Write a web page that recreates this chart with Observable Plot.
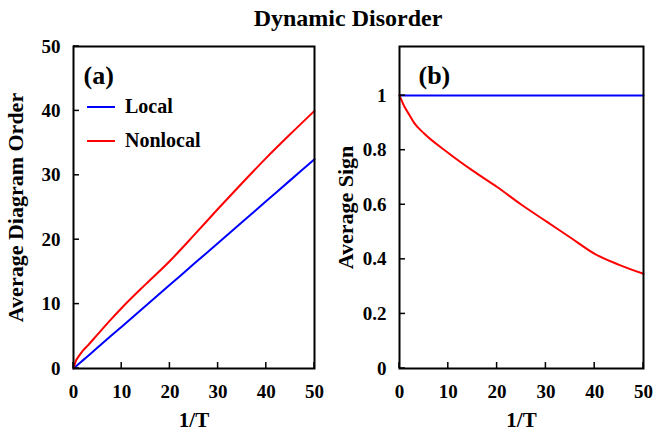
<!DOCTYPE html>
<html><head><meta charset="utf-8">
<script src="https://cdn.jsdelivr.net/npm/d3@7"></script>
<script src="https://cdn.jsdelivr.net/npm/@observablehq/plot@0.6"></script>
<style>
body{margin:0;background:#fff;font-family:"Liberation Serif",serif;}
#wrap{position:relative;width:655px;height:433px;overflow:hidden;background:#fff;}
#title{position:absolute;top:6px;left:0;width:696px;text-align:center;font-weight:bold;font-size:24px;line-height:24px;z-index:2;}
.pan{position:absolute;top:30px;z-index:1;}
</style></head>
<body><div id="wrap"><div id="pa" class="pan" style="left:0"></div><div id="pb" class="pan" style="left:327px"></div><div id="title">Dynamic Disorder</div></div>
<script>
const invT = [0,0.5,1,2,3,5,7.5,10,15,20,25,30,35,40,45,50];
const localOrder = [0,0.33,0.65,1.3,1.95,3.25,4.9,6.5,9.75,13,16.25,19.5,22.75,26,29.25,32.5];
const nonlocalOrder = [0,1.2,1.8,2.8,3.6,5.3,7.4,9.4,13.1,16.7,20.7,24.8,28.8,32.7,36.4,40];
const invTSign = [0,1,2,3,5,10,15,20,25,30,35,40,45,50];
const localSign = [1,1,1,1,1,1,1,1,1,1,1,1,1,1];
const nonlocalSign = [1,0.96,0.93,0.9,0.862,0.79,0.725,0.665,0.6,0.54,0.48,0.42,0.38,0.347];
const seriesNames = ["Local","Nonlocal"];
const colors = ["#0000ff","#ff0000"];
const xTicks = [0,10,20,30,40,50];
const yTicksA = [0,10,20,30,40,50];
const yTicksB = [0,0.2,0.4,0.6,0.8,1];

const dataA = [], dataB = [];
invT.forEach((x,i)=>{dataA.push({x,y:localOrder[i],s:"Local"});});
invT.forEach((x,i)=>{dataA.push({x,y:nonlocalOrder[i],s:"Nonlocal"});});
invTSign.forEach((x,i)=>{dataB.push({x,y:localSign[i],s:"Local"});});
invTSign.forEach((x,i)=>{dataB.push({x,y:nonlocalSign[i],s:"Nonlocal"});});

const font = "Liberation Serif";
function legendMark(index, scales, values, dims){
  const g = d3.create("svg:g");
  const x0 = dims.marginLeft + 14, y0 = dims.marginTop + 61;
  seriesNames.forEach((n,i)=>{
    const y = y0 + i*34;
    g.append("line").attr("x1",x0).attr("x2",x0+28).attr("y1",y).attr("y2",y)
      .attr("stroke",colors[i]).attr("stroke-width",2);
    g.append("text").attr("x",x0+38).attr("y",y).attr("dy","0.32em")
      .attr("text-anchor","start")
      .attr("font-family",font).attr("font-weight","bold").attr("font-size",20).text(n);
  });
  return g.node();
}
function tickMarks(xt, yt){
  return (index, scales, values, dims) => {
    const g = d3.create("svg:g").attr("stroke","#000").attr("stroke-width",1.5);
    const yb = dims.height - dims.marginBottom, xl = dims.marginLeft;
    xt.forEach(v => { const x = scales.x(v); g.append("line").attr("x1",x).attr("x2",x).attr("y1",yb).attr("y2",yb-6); });
    yt.forEach(v => { const y = scales.y(v); g.append("line").attr("x1",xl).attr("x2",xl+6).attr("y1",y).attr("y2",y); });
    return g.node();
  };
}
function panel(data, yDomain, yTicks, yLabel, tag, ml, mr, tagDx, labelDx, legend){
  return Plot.plot({
    width: 327 + (tag==="(b)"?1:0), height: 403,
    marginTop: 16, marginBottom: 65, marginLeft: ml, marginRight: mr,
    style: {fontFamily: font, fontWeight: "bold", fontSize: "19px", color: "#000", background: "transparent"},
    x: {domain: [0,50]},
    y: {domain: yDomain},
    color: {domain: seriesNames, range: colors},
    marks: [
      Plot.line(data, {x:"x", y:"y", z:"s", stroke:"s", strokeWidth:2, curve:"monotone-x"}),
      Plot.axisX({ticks: xTicks, tickSize: 0, tickPadding: 16, label: null, tickFormat: d=>String(d)}),
      Plot.axisY({ticks: yTicks, tickSize: 0, tickPadding: 13, label: null, tickFormat: d=>String(d)}),
      tickMarks(xTicks, yTicks),
      Plot.frame({stroke:"#000", strokeWidth: 2}),
      Plot.text([tag], {frameAnchor:"top-left", textAnchor:"start", lineAnchor:"middle", dx: tagDx, dy: 29, text: d=>d, fontSize: 26, fontWeight:"bold"}),
      Plot.text(["1/T"], {frameAnchor:"bottom", lineAnchor:"middle", dy: 52, text: d=>d, fontSize: 21, fontWeight:"bold"}),
      Plot.text([yLabel], {frameAnchor:"left", textAnchor:"middle", lineAnchor:"middle", dx: labelDx, rotate: -90, text: d=>d, fontSize: 22, fontWeight:"bold"}),
      ...(legend ? [legendMark] : [])
    ]
  });
}
document.getElementById("pa").appendChild(panel(dataA, [0,50], yTicksA, "Average Diagram Order", "(a)", 73, 13, 10, -58, true));
document.getElementById("pb").appendChild(panel(dataB, [0,1.18], yTicksB, "Average Sign", "(b)", 72, 12, 19, -54, false));
</script></body></html>
